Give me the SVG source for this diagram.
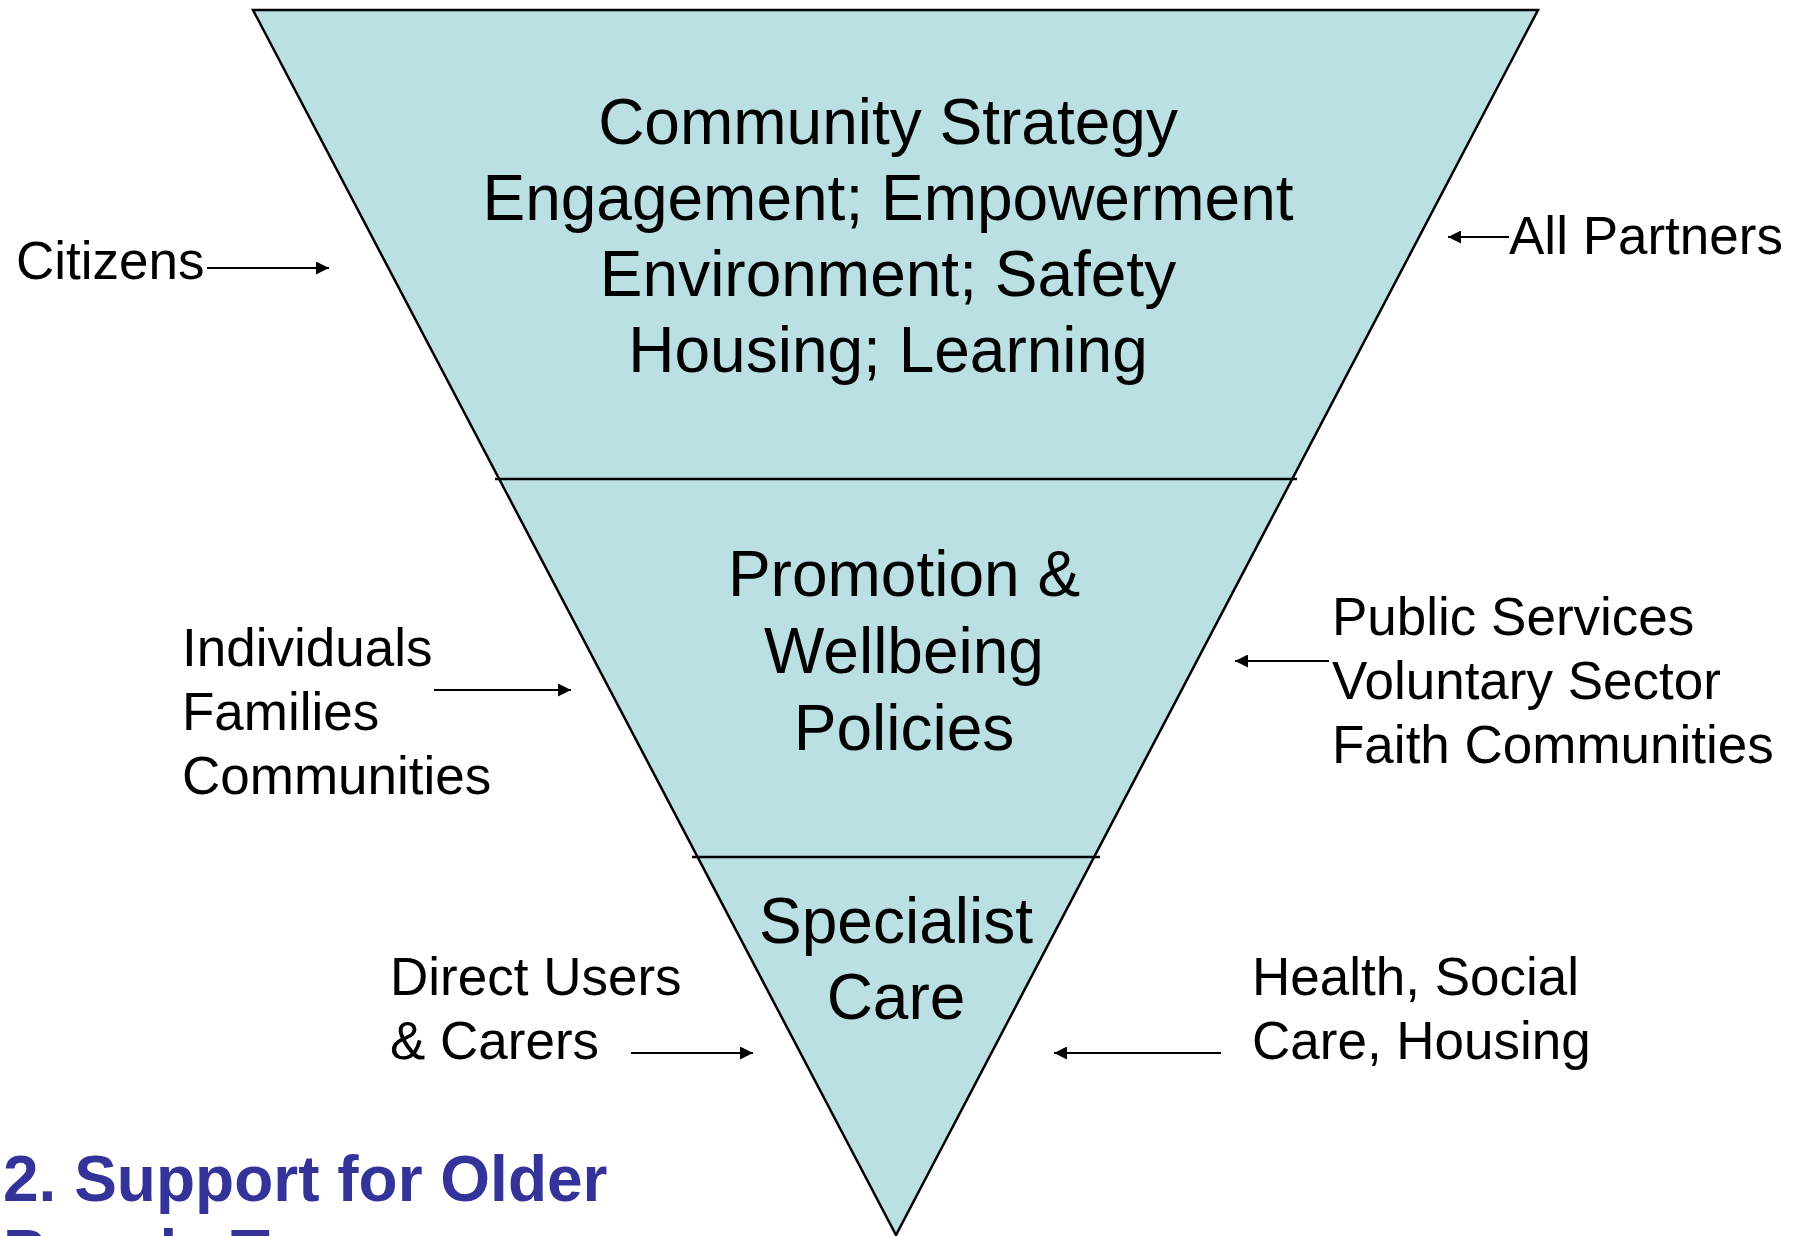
<svg xmlns="http://www.w3.org/2000/svg" width="1806" height="1236" viewBox="0 0 1806 1236">
  <style>
    .tier { fill: #BBE0E3; stroke: #000; stroke-width: 2.5; stroke-linejoin: miter; }
    .div { stroke: #000; stroke-width: 2.5; }
    .big { font-family: "Liberation Sans", Arial, sans-serif; font-size: 64px; fill: #000; text-anchor: middle; }
    .lbl { font-family: "Liberation Sans", Arial, sans-serif; font-size: 53px; fill: #000; }
    .title { font-family: "Liberation Sans", Arial, sans-serif; font-size: 64px; font-weight: bold; fill: #333399; }
    .conn { stroke: #000; stroke-width: 2; fill: none; marker-end: url(#ah); }
  </style>
  <defs>
    <marker id="ah" viewBox="0 0 10 10" refX="10" refY="5" markerWidth="8" markerHeight="6.5" markerUnits="strokeWidth" orient="auto">
      <path d="M0,0 L10,5 L0,10 z" fill="#000"/>
    </marker>
  </defs>
  <rect width="1806" height="1236" fill="#fff"/>

  <g id="pyramid">
    <polygon class="tier" points="253,10 1538,10 896,1235"/>
    <line class="div" x1="495" y1="479" x2="1297" y2="479"/>
    <line class="div" x1="692" y1="857" x2="1100" y2="857"/>
  </g>

  <g id="tier-top">
    <text class="big" x="888" y="144">Community Strategy</text>
    <text class="big" x="888" y="220">Engagement; Empowerment</text>
    <text class="big" x="888" y="296">Environment; Safety</text>
    <text class="big" x="888" y="372">Housing; Learning</text>
  </g>

  <g id="tier-middle">
    <text class="big" x="904" y="596">Promotion &amp;</text>
    <text class="big" x="904" y="673">Wellbeing</text>
    <text class="big" x="904" y="750">Policies</text>
  </g>

  <g id="tier-bottom">
    <text class="big" x="896" y="943">Specialist</text>
    <text class="big" x="896" y="1019">Care</text>
  </g>

  <g id="label-citizens">
    <text class="lbl" x="16" y="279">Citizens</text>
  </g>
  <g id="label-all-partners">
    <text class="lbl" x="1509" y="254">All Partners</text>
  </g>
  <g id="label-individuals">
    <text class="lbl" x="182" y="666">Individuals</text>
    <text class="lbl" x="182" y="730">Families</text>
    <text class="lbl" x="182" y="794">Communities</text>
  </g>
  <g id="label-public">
    <text class="lbl" x="1332" y="635">Public Services</text>
    <text class="lbl" x="1332" y="699">Voluntary Sector</text>
    <text class="lbl" x="1332" y="763">Faith Communities</text>
  </g>
  <g id="label-direct-users">
    <text class="lbl" x="390" y="995">Direct Users</text>
    <text class="lbl" x="390" y="1059">&amp; Carers</text>
  </g>
  <g id="label-health">
    <text class="lbl" x="1252" y="995">Health, Social</text>
    <text class="lbl" x="1252" y="1059">Care, Housing</text>
  </g>

  <g id="connectors">
    <line class="conn" x1="207" y1="268" x2="329" y2="268"/>
    <line class="conn" x1="1509" y1="237" x2="1448" y2="237"/>
    <line class="conn" x1="434" y1="690" x2="571" y2="690"/>
    <line class="conn" x1="1329" y1="661" x2="1235" y2="661"/>
    <line class="conn" x1="631" y1="1053" x2="753" y2="1053"/>
    <line class="conn" x1="1221" y1="1053" x2="1054" y2="1053"/>
  </g>

  <g id="title">
    <text class="title" x="3" y="1201">2. Support for Older</text>
    <text class="title" x="3" y="1275">People To</text>
  </g>
</svg>
